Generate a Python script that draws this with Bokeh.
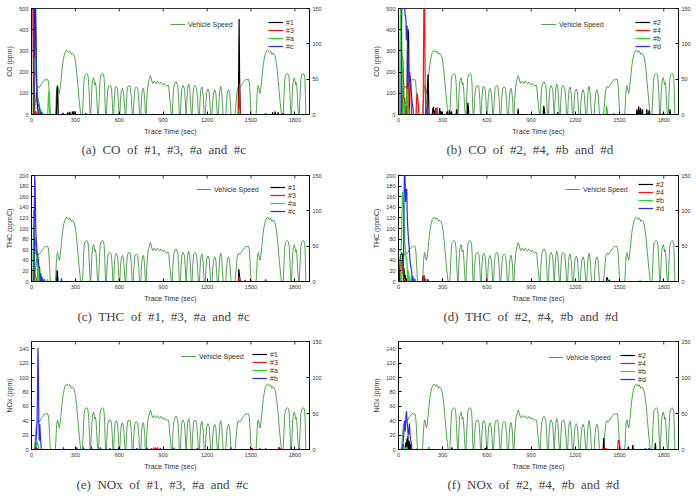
from math import pi

from bokeh.plotting import figure
from bokeh.models import Range1d, LinearAxis, Legend, LegendItem, FixedTicker
from bokeh.layouts import gridplot
from bokeh.embed import file_html
from bokeh.resources import INLINE

SANS = "Liberation Sans"
SERIF = "Liberation Serif"

# ---- FTP-75 vehicle speed (sec, km/h) ----
speed_t = [
    0, 19, 22, 26, 30, 34, 38, 44, 50, 56, 62, 70, 78, 86, 94, 102, 110, 116, 120, 124, 127, 130,
    163, 166, 170, 174, 178, 182, 186, 190, 194, 200, 206, 212, 218, 224, 230, 236, 242, 248, 254,
    260, 266, 272, 278, 284, 290, 296, 302, 308, 314, 320, 326, 332, 336,
    348, 351, 355, 359, 363, 370, 378, 385, 389, 393, 397, 401,
    405, 408, 412, 416, 420, 425, 429, 433, 437, 441, 445, 449, 453,
    458, 461, 465, 469, 475, 483, 491, 496, 500, 503, 506,
    512, 516, 522, 528, 538, 546, 552, 556,
    562, 566, 572, 580, 588, 594, 598,
    604, 608, 614, 622, 630, 636, 640,
    645, 650, 656, 664, 674, 682, 688,
    695, 700, 706, 716, 726, 734, 738,
    747, 752, 758, 766, 774, 778,
    784, 788, 794, 800, 806, 812, 818, 824, 830, 836, 844, 852, 860, 868, 876, 884, 892, 900,
    908, 916, 924, 932, 938, 946, 956,
    962, 966, 972, 980, 990, 1000, 1006, 1010,
    1018, 1022, 1028, 1036, 1046, 1052, 1056,
    1058, 1062, 1068, 1074, 1082, 1088, 1092,
    1098, 1102, 1108, 1118, 1128, 1136, 1140,
    1148, 1152, 1158, 1166, 1174, 1180,
    1188, 1192, 1198, 1206, 1214, 1220, 1225,
    1234, 1238, 1244, 1252, 1260, 1266, 1270,
    1278, 1282, 1288, 1294, 1300, 1306, 1310,
    1328, 1332, 1338, 1346, 1354, 1360, 1364,
    1391, 1394, 1398, 1402, 1406, 1410, 1416, 1422, 1428, 1434, 1442, 1450, 1458, 1466, 1474,
    1482, 1488, 1492, 1496, 1499, 1502,
    1535, 1538, 1542, 1546, 1550, 1554, 1558, 1562, 1566, 1572, 1578, 1584, 1590, 1596, 1602,
    1608, 1614, 1620, 1626, 1632, 1638, 1644, 1650, 1656, 1662, 1668, 1674, 1680, 1686, 1692,
    1698, 1704, 1708,
    1720, 1723, 1727, 1731, 1735, 1742, 1750, 1757, 1761, 1765, 1769, 1773,
    1777, 1780, 1784, 1788, 1792, 1797, 1801, 1805, 1809, 1813, 1817, 1821, 1825,
    1830, 1833, 1837, 1841, 1847, 1855, 1863, 1868, 1872, 1875,
]
speed_v = [
    0, 0, 6, 16, 26, 34, 38, 40, 38, 39, 41, 44, 46, 48, 50, 49, 50, 46, 36, 20, 6, 0,
    0, 10, 28, 38, 41, 38, 33, 30, 34, 45, 58, 70, 78, 84, 88, 90, 91, 89, 88,
    90, 88, 85, 87, 86, 84, 80, 72, 62, 48, 34, 20, 8, 0,
    0, 12, 32, 48, 55, 57, 58, 56, 50, 36, 16, 0,
    0, 15, 35, 46, 50, 52, 48, 42, 45, 40, 26, 10, 0,
    0, 14, 34, 50, 56, 58, 57, 52, 38, 15, 0,
    0, 20, 36, 40, 41, 38, 20, 0,
    0, 22, 38, 40, 36, 18, 0,
    0, 20, 34, 37, 30, 12, 0,
    0, 22, 38, 41, 40, 25, 0,
    0, 20, 36, 39, 37, 18, 0,
    0, 22, 36, 37, 22, 0,
    0, 20, 38, 46, 50, 55, 52, 46, 44, 47, 46, 44, 47, 45, 43, 46, 44, 42,
    44, 41, 40, 42, 40, 20, 0,
    0, 20, 38, 45, 46, 40, 20, 0,
    0, 22, 38, 41, 36, 16, 0,
    0, 20, 38, 43, 36, 12, 0,
    0, 22, 38, 41, 38, 18, 0,
    0, 20, 36, 39, 25, 0,
    0, 18, 32, 36, 32, 14, 0,
    0, 16, 30, 35, 30, 12, 0,
    0, 20, 36, 40, 32, 12, 0,
    0, 16, 30, 35, 30, 12, 0,
    0, 6, 16, 26, 34, 38, 40, 38, 39, 41, 44, 46, 48, 50, 49,
    50, 46, 36, 20, 6, 0,
    0, 10, 28, 38, 41, 38, 33, 30, 34, 45, 58, 70, 78, 84, 88,
    90, 91, 89, 88, 90, 88, 85, 87, 86, 84, 80, 72, 62, 48, 34,
    20, 8, 0,
    0, 12, 32, 48, 55, 57, 58, 56, 50, 36, 16, 0,
    0, 15, 35, 46, 50, 52, 48, 42, 45, 40, 26, 10, 0,
    0, 14, 34, 50, 56, 58, 57, 52, 30, 0,
]

# ---- emission peaks (sec, concentration) ----
co_1 = [(20, 600), (24, 560), (28, 420), (33, 200), (38, 60), (44, 20), (174, 110), (177, 135),
        (180, 90), (215, 8), (248, 10), (262, 12), (280, 14), (290, 16), (372, 6), (1416, 200),
        (1419, 450), (1422, 180), (1426, 40), (1600, 5), (1648, 10), (1665, 14), (1685, 10), (1720, 6)]
co_3 = [(3, 650), (7, 700), (11, 620), (15, 60), (22, 20), (30, 15), (40, 8), (1418, 90),
        (1421, 145), (1424, 40)]
co_a = [(14, 180), (18, 270), (22, 240), (27, 200), (32, 150), (38, 110), (44, 80), (50, 60),
        (56, 40), (64, 25), (74, 12), (114, 60), (117, 110), (120, 70), (124, 15), (1420, 25)]
co_c = [(17, 400), (20, 650), (24, 620), (28, 540), (32, 300), (36, 120), (40, 70), (45, 50),
        (50, 40), (56, 25), (64, 12), (72, 6)]

co_2 = [(26, 80), (30, 125), (34, 60), (60, 300), (64, 404), (68, 380), (72, 120), (196, 120),
        (200, 190), (204, 100), (232, 25), (238, 35), (246, 20), (256, 30), (280, 30), (290, 15),
        (330, 15), (346, 20), (360, 15), (394, 25), (470, 55), (474, 35), (812, 28), (985, 40),
        (990, 25), (1080, 10), (1618, 25), (1630, 38), (1642, 30), (1655, 25), (1685, 25),
        (1700, 20), (1798, 10), (1842, 25)]
co_4 = [(22, 150), (26, 280), (30, 250), (35, 150), (42, 80), (50, 60), (72, 150), (76, 200),
        (80, 180), (86, 60), (122, 60), (126, 100), (130, 80), (136, 40), (170, 300), (173, 600),
        (177, 560), (181, 120), (186, 20), (252, 30), (262, 35), (1460, 5), (1772, 8)]
co_b = [(10, 300), (14, 520), (18, 480), (22, 350), (28, 200), (36, 80), (44, 50), (50, 40),
        (56, 120), (62, 80), (70, 30), (1412, 40), (1416, 25)]
co_d = [(20, 350), (24, 600), (28, 560), (34, 600), (38, 520), (44, 480), (50, 450), (54, 350),
        (58, 420), (62, 300), (68, 200), (74, 150), (80, 180), (86, 120), (92, 60), (98, 30),
        (186, 30), (190, 15)]

thc_1 = [(18, 60), (22, 84), (26, 75), (30, 60), (34, 52), (40, 35), (46, 27), (54, 15), (62, 11),
         (72, 5), (175, 21), (178, 15), (1417, 23), (1420, 15), (1424, 5)]
thc_3 = [(16, 15), (20, 24), (24, 12), (30, 8), (40, 5), (1419, 9), (1422, 5)]
thc_a = [(12, 60), (15, 136), (18, 110), (22, 84), (26, 65), (32, 50), (38, 40), (46, 28),
         (54, 20), (64, 12), (76, 8), (90, 5), (110, 4)]
thc_c = [(19, 120), (22, 200), (25, 180), (29, 100), (34, 71), (38, 55), (44, 49), (50, 30),
         (56, 25), (64, 15), (72, 8), (84, 4), (205, 6), (1460, 3), (1600, 4)]

thc_2 = [(10, 30), (14, 52), (18, 50), (22, 54), (27, 50), (32, 30), (38, 21), (46, 12), (56, 6),
         (166, 8), (172, 11), (176, 6), (200, 4), (1414, 8), (1418, 6), (1430, 3)]
thc_4 = [(14, 25), (18, 40), (22, 30), (28, 20), (34, 12), (42, 6), (170, 9), (174, 12),
         (180, 5), (196, 5)]
thc_b = [(18, 60), (23, 120), (27, 169), (30, 150), (34, 147), (38, 115), (42, 84), (46, 60),
         (52, 46), (58, 33), (66, 21), (76, 10), (90, 5), (1420, 3), (1640, 3)]
thc_d = [(36, 120), (40, 200), (44, 200), (48, 150), (52, 170), (56, 175), (60, 120), (64, 96),
         (68, 80), (72, 65), (78, 40), (84, 27), (90, 18), (98, 10), (110, 5)]

nox_1 = [(28, 2), (34, 3), (46, 2), (1505, 2), (1600, 1.5)]
nox_3 = [(22, 2), (30, 3), (40, 2), (820, 2), (836, 3), (850, 2.5), (862, 3), (1510, 2),
         (1690, 3), (1700, 2)]
nox_a = [(30, 5), (34, 7), (38, 11), (42, 8), (48, 4)]
nox_b1 = [(30, 10), (34, 20), (38, 37), (41, 80), (44, 141), (47, 110), (50, 40), (53, 12),
          (57, 35), (60, 22), (64, 8), (218, 3), (309, 3), (355, 3), (410, 4), (470, 3),
          (535, 2), (595, 3), (720, 2), (790, 2.5), (880, 2), (973, 2.5), (1133, 2), (1362, 3),
          (1560, 2), (1694, 3), (1775, 4), (1830, 2)]

nox_2 = [(34, 7), (50, 10), (57, 15), (64, 19), (72, 12), (80, 8), (362, 3), (589, 2),
         (1392, 16), (1395, 8), (1560, 4), (1590, 6), (1743, 9)]
nox_4 = [(23, 2), (1398, 3), (1410, 2), (1490, 12), (1496, 13), (1502, 4)]
nox_b2 = [(34, 5), (45, 3), (57, 4), (125, 2), (204, 3.5), (208, 3)]
nox_d = [(30, 8), (34, 16), (38, 30), (42, 40), (46, 25), (50, 45), (54, 53), (58, 40),
         (62, 31), (66, 20), (70, 25), (74, 36), (78, 21), (82, 14), (88, 6), (1675, 2), (1700, 2)]

time_ticks = [0, 300, 600, 900, 1200, 1500, 1800]
speed_ticks = [0, 50, 100, 150]
series_colors = ["#000000", "#ff1010", "#22dd22", "#2a2aff"]
speed_color = "#3f9a3f"
END_TIME = 1875
NB = "\u00a0 "   # wide word gap used in the captions


def spike_trace(peaks, half=3):
    """Turn sparse peaks into a 1 Hz-looking trace resting on zero."""
    pts = sorted(peaks)
    xs, ys = [0], [0]
    for i, (t, v) in enumerate(pts):
        if i == 0 or t - pts[i - 1][0] > 2 * half:
            xs.append(t - half); ys.append(0)
        xs.append(t); ys.append(v)
        if i == len(pts) - 1 or pts[i + 1][0] - t > 2 * half:
            xs.append(t + half); ys.append(0)
    xs.append(END_TIME); ys.append(0)
    return xs, ys


def style_axis(ax, ticks):
    ax.ticker = FixedTicker(ticks=ticks)
    ax.major_tick_in = 3
    ax.major_tick_out = 0
    ax.minor_tick_in = 0
    ax.minor_tick_out = 0
    ax.major_label_text_font = SANS
    ax.major_label_text_font_size = "5.5px"
    ax.major_label_text_color = "#333333"
    ax.major_label_standoff = 3
    ax.axis_label_text_font = SANS
    ax.axis_label_text_font_size = "7px"
    ax.axis_label_text_font_style = "normal"
    ax.axis_label_text_color = "#333333"
    ax.axis_label_standoff = 3
    ax.axis_line_width = 0.8


def make_panel(caption, cap_offset, ylabel, ymax, yticks, names, data, col, rowi,
               speed_leg_xy, series_leg_xy):
    top = [8, 7, 5][rowi]
    h = [168, 168, 166][rowi]
    frame_h = [106, 106, 108][rowi]
    p = figure(width=348, height=h,
               x_range=Range1d(0, 1900), y_range=Range1d(0, ymax),
               output_backend="svg", toolbar_location=None,
               min_border_left=31 if col == 0 else 50,
               min_border_right=39 if col == 0 else 18,
               min_border_top=top, min_border_bottom=h - top - frame_h,
               title=caption, title_location="below")
    p.extra_y_ranges = {"speed": Range1d(0, 150)}
    p.grid.visible = False
    p.outline_line_color = "#000000"
    p.outline_line_width = 0.8
    p.background_fill_color = "white"
    p.border_fill_color = "white"

    p.title.text_font = SERIF
    p.title.text_font_size = "13px"
    p.title.text_font_style = "normal"
    p.title.align = "left"
    p.title.offset = cap_offset
    p.title.standoff = 4

    style_axis(p.xaxis[0], time_ticks)
    p.xaxis[0].axis_label = "Trace Time (sec)"
    style_axis(p.yaxis[0], yticks)
    p.yaxis[0].axis_label = ylabel

    right = LinearAxis(y_range_name="speed")
    style_axis(right, speed_ticks)
    p.add_layout(right, "right")

    # inward tick marks along the top edge of the frame
    p.scatter(time_ticks, [ymax] * len(time_ticks), marker="dash", angle=pi / 2, size=6,
              line_color="#000000", line_width=0.8)

    speed_r = p.line(speed_t, speed_v, y_range_name="speed", line_color=speed_color, line_width=0.9)

    rends = []
    for peaks, color in zip(data, series_colors):
        xs, ys = spike_trace(peaks)
        rends.append(p.line(xs, ys, line_color=color, line_width=1.2))

    common = dict(border_line_color=None, background_fill_alpha=0, label_text_font=SANS,
                  label_text_font_size="7px", label_text_color="#333333", glyph_width=15,
                  glyph_height=8, label_height=8, spacing=0, padding=0, margin=0,
                  label_standoff=3)
    leg1 = Legend(items=[LegendItem(label="Vehicle Speed", renderers=[speed_r])],
                  location=speed_leg_xy, **common)
    leg2 = Legend(items=[LegendItem(label=n, renderers=[r]) for n, r in zip(names, rends)],
                  location=series_leg_xy, **common)
    p.add_layout(leg1)
    p.add_layout(leg2)
    return p


def caption_text(*words):
    return NB.join(words)


co_ticks = [0, 100, 200, 300, 400, 500]
thc_ticks = list(range(0, 201, 20))
nox_ticks = list(range(0, 141, 20))

pa = make_panel(caption_text("(a)", "CO", "of", "#1,", "#3,", "#a", "and", "#c"), 50,
                "CO (ppm)", 500, co_ticks, ["#1", "#3", "#a", "#c"],
                [co_1, co_3, co_a, co_c], 0, 0, (139, 86), (237, 64))
pb = make_panel(caption_text("(b)", "CO", "of", "#2,", "#4,", "#b", "and", "#d"), 48,
                "CO (ppm)", 500, co_ticks, ["#2", "#4", "#b", "#d"],
                [co_2, co_4, co_b, co_d], 1, 0, (143, 86), (237, 64))
pc = make_panel(caption_text("(c)", "THC", "of", "#1,", "#3,", "#a", "and", "#c"), 46,
                "THC (ppmC)", 200, thc_ticks, ["#1", "#3", "#a", "#c"],
                [thc_1, thc_3, thc_a, thc_c], 0, 1, (165, 88), (239, 66))
pd = make_panel(caption_text("(d)", "THC", "of", "#2,", "#4,", "#b", "and", "#d"), 45,
                "THC (ppmC)", 200, thc_ticks, ["#2", "#4", "#b", "#d"],
                [thc_2, thc_4, thc_b, thc_d], 1, 1, (167, 88), (240, 69))
pe = make_panel(caption_text("(e)", "NOx", "of", "#1,", "#3,", "#a", "and", "#c"), 45,
                "NOx (ppm)", 150, nox_ticks, ["#1", "#3", "#a", "#b"],
                [nox_1, nox_3, nox_a, nox_b1], 0, 2, (150, 89), (221, 67))
pf = make_panel(caption_text("(f)", "NOx", "of", "#2,", "#4,", "#b", "and", "#d"), 49,
                "NOx (ppm)", 150, nox_ticks, ["#2", "#4", "#b", "#d"],
                [nox_2, nox_4, nox_b2, nox_d], 1, 2, (150, 88), (222, 66))

grid = gridplot([[pa, pb], [pc, pd], [pe, pf]], toolbar_location=None, merge_tools=False)

with open("out.html", "w") as f:
    f.write(file_html(grid, INLINE))
